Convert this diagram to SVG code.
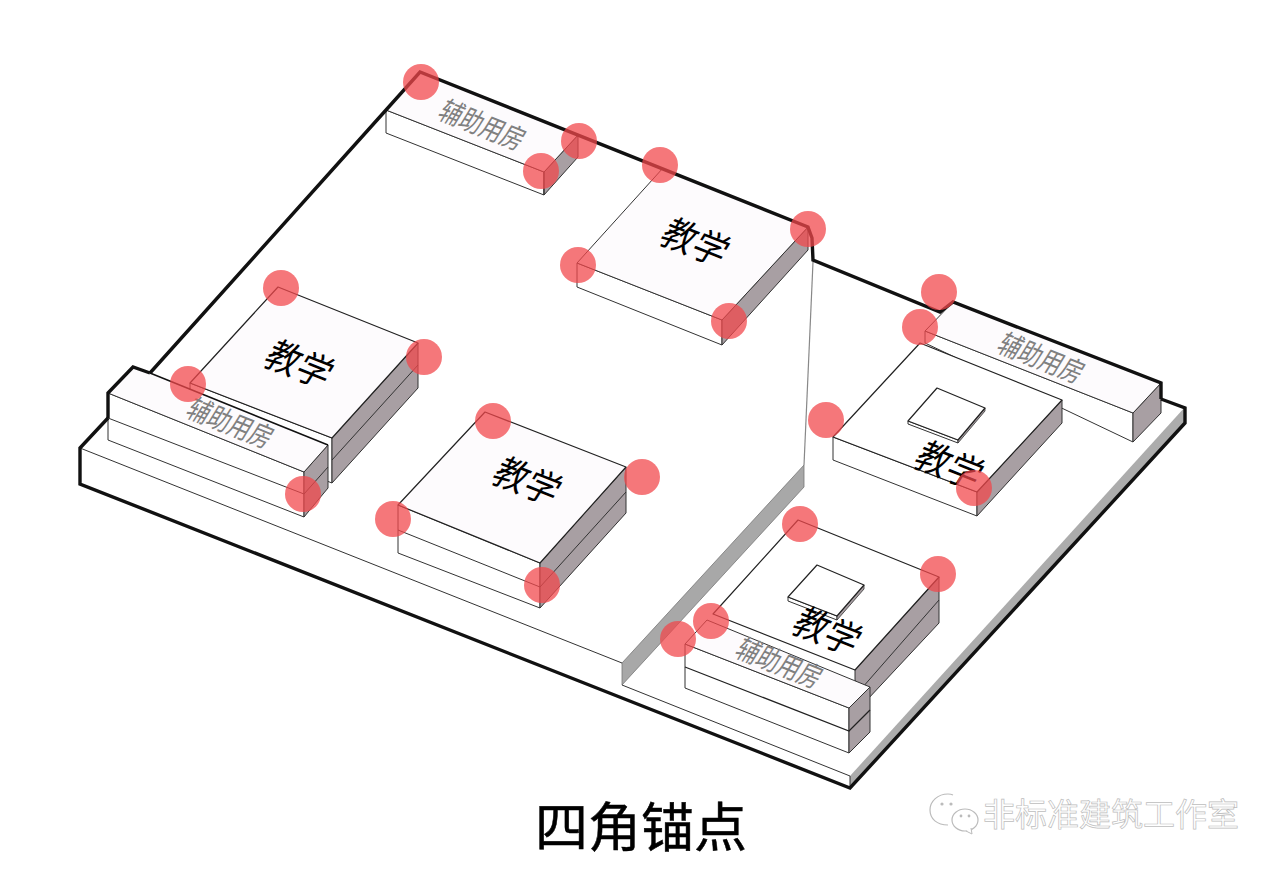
<svg xmlns="http://www.w3.org/2000/svg" width="1280" height="871" viewBox="0 0 1280 871">
<style>
.top{fill:#fdfbfd;stroke:#222;stroke-width:1.2;stroke-linejoin:round}
.front{fill:#fff;stroke:#333;stroke-width:1;stroke-linejoin:round}
.side{fill:#a89fa3;stroke:#333;stroke-width:1;stroke-linejoin:round}
.edge{fill:none;stroke:#333;stroke-width:1}
.thick{fill:none;stroke:#111;stroke-width:3.4;stroke-linejoin:miter}
.dot{fill:#f2474c;fill-opacity:.74}
.t{font-family:"Noto Sans CJK SC","Noto Sans CJK JP",sans-serif;text-anchor:middle}
.jx{font-size:33px;fill:#000}
.fz{font-size:25px;fill:#808080}
</style>
<rect width="1280" height="871" fill="#fff"/>
<g id="site">
<polygon points="80,448 108,418 108,393 133,367 150,373 386,110 420,72 808,227 813,260 940,312 953,302 1161,383 1161,399 1185,409 1185,423 850,788 80,484" fill="#fff"/>
<polygon points="850,776 1185,407 1185,423 850,788" fill="#acacac"/>
<polygon points="622,663 804,465 804,487 622,685" fill="#a8a8a8" stroke="#777" stroke-width=".8"/>
<path class="edge" d="M80,448L622,663M622,685L850,776M850,776V788"/>
<path d="M804,465L813,262" fill="none" stroke="#888" stroke-width="1.2"/>
</g>
<g id="aux-top">
<polygon class="front" points="386,110 544,172 544,195 386,133"/>
<polygon class="side" points="544,172 578,135 578,157 544,195"/>
<polygon class="top" style="stroke:none" points="420,72 578,135 544,172 386,110"/>
<path class="edge" d="M386,110L544,172L578,135M544,172V195"/>
<text class="t fz" transform="matrix(.82,.33,-.6,.98,477,134)">辅助用房</text>
</g>
<g id="teach-top">
<polygon class="front" points="577,263 722,320 722,345 577,287"/>
<polygon class="side" points="722,320 808,227 808,250 722,345"/>
<polygon class="top" style="stroke:none" points="663,168 808,227 722,320 577,263"/>
<path class="edge" d="M663,168L577,263L722,320L808,227"/>
<text class="t jx" transform="matrix(.93,.37,-.62,.98,688,254)">教学</text>
</g>
<g id="teach-left">
<polygon class="front" points="190,383 332,438 332,483 190,428"/>
<polygon class="side" points="332,438 418,343 418,388 332,483"/>
<path class="edge" d="M332,460L418,365"/>
<polygon class="top" points="278,287 418,343 332,438 190,383"/>
<text class="t jx" transform="matrix(.93,.37,-.62,.98,292,376)">教学</text>
</g>
<g id="aux-left">
<polygon class="front" points="108,393 304,472 304,517 108,440"/>
<polygon class="side" points="304,472 328,445 328,488 304,517"/>
<path class="edge" d="M108,418L304,494L328,467"/>
<polygon class="top" style="stroke:none" points="133,367 328,445 304,472 108,393"/>
<path class="edge" d="M108,393L304,472L328,445" stroke-width="1.4"/>
<text class="t fz" transform="matrix(.82,.33,-.6,.98,225,432)">辅助用房</text>
</g>
<g id="teach-center">
<polygon class="front" points="398,505 540,563 540,608 398,553"/>
<polygon class="side" points="540,563 626,467 626,513 540,608"/>
<path class="edge" d="M398,530L540,587L626,492"/>
<polygon class="top" points="485,412 626,467 540,563 398,505"/>
<text class="t jx" transform="matrix(.93,.37,-.62,.98,520,493)">教学</text>
</g>
<g id="aux-right">
<polygon class="front" points="925,331 1133,413 1133,442 925,343"/>
<polygon class="side" points="1133,413 1161,383 1161,413 1133,442"/>
<polygon class="top" style="stroke:none" points="953,302 1161,383 1133,413 925,331"/>
<path class="edge" d="M925,331L1133,413L1161,383M925,331L953,302"/>
<text class="t fz" transform="matrix(.82,.33,-.6,.98,1036,367)">辅助用房</text>
</g>
<g id="teach-right">
<polygon class="front" points="833,437 977,492 977,516 833,460"/>
<polygon class="side" points="977,492 1062,400 1062,423 977,516"/>
<polygon class="top" style="fill:#fff" points="920,343 1062,400 977,492 833,437"/>
<polygon class="front" points="908,421 958,440 958,443 908,424"/>
<polygon points="958,440 985,408 985,411 958,443" fill="#a89fa3" stroke="#333" stroke-width=".8"/>
<polygon class="top" style="fill:#fff" points="937,388 985,408 958,440 908,421"/>
<text class="t jx" transform="matrix(.93,.37,-.62,.98,942,477)">教学</text>
</g>
<g id="teach-lower">
<polygon class="side" points="855,670 939,577 939,623 867,700 855,680"/>
<path class="edge" d="M862,688L939,600"/>
<polygon class="top" style="fill:#fff" points="798,520 939,577 855,670 713,614"/>
<polygon class="front" points="788,597 837,616 837,620 788,601"/>
<polygon points="837,616 864,585 864,589 837,620" fill="#a89fa3" stroke="#333" stroke-width=".8"/>
<polygon class="top" style="fill:#fff" points="817,565 864,585 837,616 788,597"/>
<text class="t jx" transform="matrix(.93,.37,-.62,.98,820,643)">教学</text>
</g>
<g id="aux-lower">
<polygon class="front" points="685,644 849,708 849,753 685,688"/>
<polygon class="side" points="849,708 870,687 870,732 849,753"/>
<path d="M685,667L849,731L870,710" fill="none" stroke="#222" stroke-width="1.3"/>
<polygon class="top" style="stroke:none" points="707,620 870,687 849,708 685,644"/>
<path class="edge" d="M685,644L849,708L870,687L707,620Z" stroke-width="1.2"/>
<text class="t fz" transform="matrix(.82,.33,-.6,.98,774,672)">辅助用房</text>
</g>
<g id="site-outline">
<path class="thick" d="M108,418L80,448V484L850,788L1185,423V408L1161,399"/>
<path class="thick" d="M150,373L133,367L108,393V418M150,373L386,110L420,72L808,227L812,238L813,260L940,312L953,302L1161,383V399"/>
<path d="M150,373L328,445" fill="none" stroke="#111" stroke-width="1.5"/>
</g>
<g id="anchors">
<circle class="dot" cx="421" cy="82" r="18"/><circle class="dot" cx="579" cy="141" r="18"/><circle class="dot" cx="541" cy="171" r="18"/>
<circle class="dot" cx="660" cy="165" r="18"/><circle class="dot" cx="808" cy="229" r="18"/><circle class="dot" cx="578" cy="265" r="18"/><circle class="dot" cx="729" cy="321" r="18"/>
<circle class="dot" cx="281" cy="288" r="18"/><circle class="dot" cx="424" cy="357" r="18"/><circle class="dot" cx="188" cy="384" r="18"/><circle class="dot" cx="303" cy="494" r="18"/>
<circle class="dot" cx="493" cy="421" r="18"/><circle class="dot" cx="642" cy="477" r="18"/><circle class="dot" cx="393" cy="519" r="18"/><circle class="dot" cx="542" cy="585" r="18"/>
<circle class="dot" cx="939" cy="292" r="18"/><circle class="dot" cx="920" cy="327" r="18"/><circle class="dot" cx="826" cy="420" r="18"/><circle class="dot" cx="974" cy="488" r="18"/>
<circle class="dot" cx="800" cy="524" r="18"/><circle class="dot" cx="938" cy="574" r="18"/><circle class="dot" cx="711" cy="621" r="18"/><circle class="dot" cx="678" cy="639" r="18"/>
</g>
<text id="title" class="t" x="641" y="847" font-size="53" fill="#000" stroke="#000" stroke-width=".5">四角锚点</text>
<g id="watermark">
<path d="M948,826c-11,0-18-6-18-15c0-9,8-16,18-16c2,0,3,0,5,1" fill="#fff" stroke="#bbb" stroke-width="1.2" transform="translate(0,-1)"/>
<ellipse cx="965" cy="820" rx="13" ry="11" fill="#fff" stroke="#bbb" stroke-width="1.2"/>
<path d="M966,831l6,3l-1,-6" fill="#fff" stroke="#bbb" stroke-width="1"/>
<circle cx="942" cy="804" r="1.6" fill="#bbb"/><circle cx="951" cy="804" r="1.6" fill="#bbb"/><circle cx="961" cy="816" r="1.4" fill="#bbb"/><circle cx="969" cy="816" r="1.4" fill="#bbb"/>
<text class="t" x="1111" y="826" font-size="32" fill="#fff" stroke="#bdbdbd" stroke-width=".7">非标准建筑工作室</text>
</g>
</svg>
